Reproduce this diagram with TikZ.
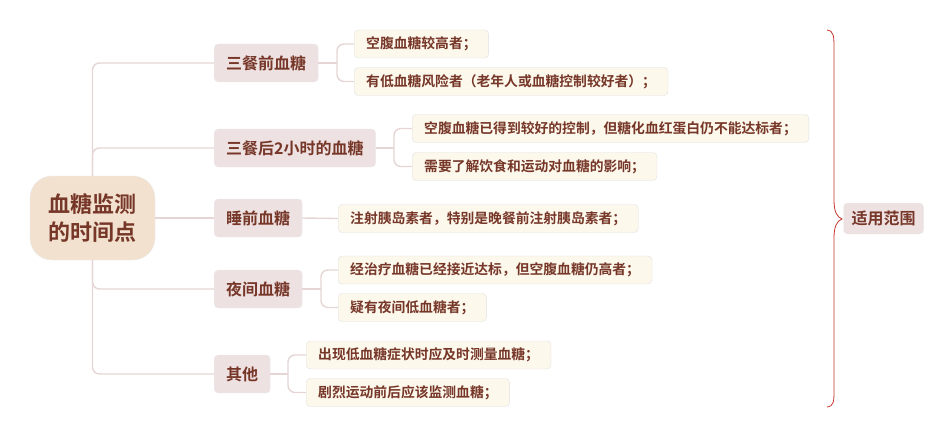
\documentclass[tikz,border=0pt]{standalone}
\usepackage{fontspec}
\setmainfont{Noto Sans CJK SC}[BoldFont={Noto Sans CJK SC Bold}]
\definecolor{rootfill}{HTML}{F2E1CE}
\definecolor{branchfill}{HTML}{EEE1E1}
\definecolor{leaffill}{HTML}{FCF8EC}
\definecolor{inktext}{HTML}{763628}
\definecolor{linkcol}{HTML}{E6D5D5}
\definecolor{bracecol}{HTML}{C4342E}
\begin{document}
\begin{tikzpicture}[x=1pt,y=-1pt,
  topic/.style={fill=rootfill,draw=black!8,rounded corners=22pt,text=inktext,font=\fontsize{22}{28}\selectfont\bfseries,align=center,minimum width=125pt,minimum height=84pt,inner sep=0pt},
  branch/.style={fill=branchfill,draw=black!8,rounded corners=4pt,text=inktext,font=\fontsize{16}{19}\selectfont\bfseries,anchor=west,minimum height=38pt,inner xsep=12pt,inner ysep=0pt},
  leaf/.style={fill=leaffill,draw=black!12,rounded corners=4pt,text=inktext,font=\fontsize{13.8}{16}\selectfont\bfseries,anchor=west,minimum height=28pt,inner xsep=12pt,inner ysep=0pt},
  link/.style={draw=linkcol,line width=1.4pt,rounded corners=7pt}]
\useasboundingbox (0,0) rectangle (951,436);
\node[topic] (root) at (92.5,218) {血糖监测\\的时间点};
\node[branch] (pre) at (214,63) {三餐前血糖};
\node[branch] (post) at (214,148) {三餐后2小时的血糖};
\node[branch] (bed) at (214,218) {睡前血糖};
\node[branch] (night) at (214,289) {夜间血糖};
\node[branch] (other) at (214,374) {其他};
\node[leaf] (preA) at (354,44) {空腹血糖较高者；};
\node[leaf] (preB) at (354,81.5) {有低血糖风险者（老年人或血糖控制较好者）；};
\node[leaf] (postA) at (412,128.5) {空腹血糖已得到较好的控制，但糖化血红蛋白仍不能达标者；};
\node[leaf] (postB) at (412,166.5) {需要了解饮食和运动对血糖的影响；};
\node[leaf] (bedA) at (338,218.5) {注射胰岛素者，特别是晚餐前注射胰岛素者；};
\node[leaf] (nightA) at (338,270) {经治疗血糖已经接近达标，但空腹血糖仍高者；};
\node[leaf] (nightB) at (338,307.5) {疑有夜间低血糖者；};
\node[leaf] (otherA) at (306,355) {出现低血糖症状时应及时测量血糖；};
\node[leaf] (otherB) at (306,392.5) {剧烈运动前后应该监测血糖；};
\node[branch,anchor=center,inner xsep=8pt,minimum height=31pt] (scope) at (883.5,218.5) {适用范围};
\coordinate (preF) at (337,63);
\coordinate (postF) at (394,148);
\coordinate (nightF) at (321,289);
\coordinate (otherF) at (288,374);
\draw[link] (root.north) |- (pre.west);
\draw[link] (root.north) |- (post.west);
\draw[link] (root.east) -- (bed.west);
\draw[link] (root.south) |- (night.west);
\draw[link] (root.south) |- (other.west);
\draw[link] (pre.east) -- (preF);
\draw[link] (preF) |- (preA.west);
\draw[link] (preF) |- (preB.west);
\draw[link] (post.east) -- (postF);
\draw[link] (postF) |- (postA.west);
\draw[link] (postF) |- (postB.west);
\draw[link] (bed.east) -- (bedA.west);
\draw[link] (night.east) -- (nightF);
\draw[link] (nightF) |- (nightA.west);
\draw[link] (nightF) |- (nightB.west);
\draw[link] (other.east) -- (otherF);
\draw[link] (otherF) |- (otherA.west);
\draw[link] (otherF) |- (otherB.west);
\coordinate (braceTop) at (827,30);
\coordinate (braceTip) at (842,219);
\coordinate (braceEnd) at (827,407);
\draw[bracecol,line width=.8pt] (braceTop) .. controls (834,31) and (834,36) .. (834,50) -- (834,200) .. controls (834,212) and (837,217) .. (braceTip) .. controls (837,221) and (834,226) .. (834,238) -- (834,388) .. controls (834,402) and (834,406) .. (braceEnd);
\end{tikzpicture}
\end{document}
